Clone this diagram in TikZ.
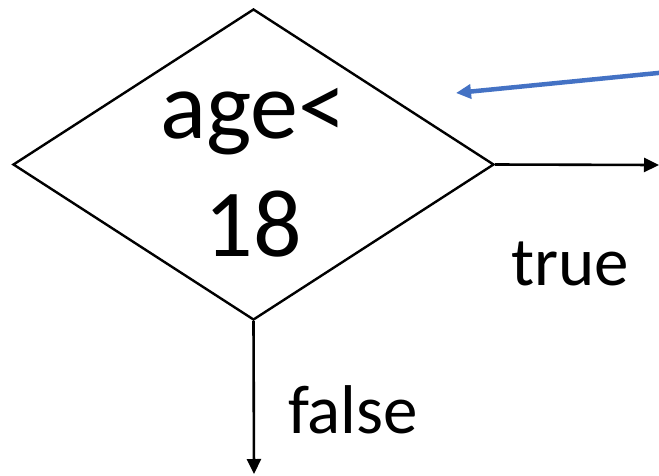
\documentclass[tikz,border=0pt]{standalone}
\usepackage{fontspec}
\setmainfont{Carlito}
\usepackage{xcolor}
\definecolor{noteblue}{RGB}{68,114,196}
\usetikzlibrary{arrows.meta,shapes.geometric}

\begin{document}
\begin{tikzpicture}[x=1pt,y=-1pt]
\useasboundingbox (0,0) rectangle (659,475);
\begin{scope}[every node/.style={align=center,inner sep=0pt}]
    \node[draw,line width=2.4pt,diamond,aspect=1.547,minimum width=481pt,minimum height=311pt,
          font=\fontsize{96}{118}\selectfont] (cond) at (253.5,164.5) {\rule{0pt}{66pt}age<\\18};
    \node[anchor=base west,font=\fontsize{69}{83}\selectfont] (true) at (511,285) {true};
    \node[anchor=base west,font=\fontsize{69}{83}\selectfont] (false) at (288,433) {false};
\end{scope}
% loose ends of the connectors
\coordinate (trueEnd) at (659,165);
\coordinate (falseEnd) at (254,474);
\coordinate (noteStart) at (668,72);
\coordinate (noteEnd) at (456,93);
\begin{scope}[>={Triangle[length=15pt,width=14pt]},
              every edge/.style={draw=black,line width=2.6pt}]
    \path [->] (cond.east) edge (trueEnd);
    \path [->] (cond.south) edge (falseEnd);
    \path [->] (noteStart) edge[draw=noteblue,line width=4.5pt] (noteEnd);
\end{scope}
\end{tikzpicture}
\end{document}
